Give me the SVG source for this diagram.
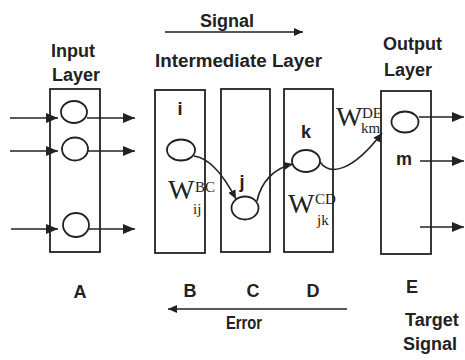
<svg xmlns="http://www.w3.org/2000/svg" width="465" height="360" viewBox="0 0 465 360">
<defs>
<marker id="ah" markerUnits="userSpaceOnUse" markerWidth="13" markerHeight="10" refX="12" refY="5" orient="auto">
<path d="M0,0 L12,5 L0,10 Z" fill="#222"/>
</marker>
<marker id="as" markerUnits="userSpaceOnUse" markerWidth="10" markerHeight="8" refX="9" refY="4" orient="auto">
<path d="M0,0 L9,4 L0,8 Z" fill="#222"/>
</marker>
</defs>
<style>
.box{fill:none;stroke:#222;stroke-width:1.8}
.cir{fill:#fff;stroke:#222;stroke-width:1.8}
.ln{fill:none;stroke:#222;stroke-width:1.6}
.t{font-family:"Liberation Sans",Arial,sans-serif;font-weight:bold;font-size:18px;fill:#222}
.w{font-family:"Liberation Serif","Times New Roman",serif;fill:#222}
.wb{font-size:28px}
.ws{font-size:15px}
</style>
<rect width="465" height="360" fill="#fff"/>

<g id="titles">
<text class="t" x="227" y="27" text-anchor="middle">Signal</text>
<text class="t" x="238.5" y="67" text-anchor="middle" textLength="167" lengthAdjust="spacingAndGlyphs">Intermediate Layer</text>
<text class="t" x="73" y="57" text-anchor="middle">Input</text>
<text class="t" x="76" y="81" text-anchor="middle">Layer</text>
<text class="t" x="383" y="50">Output</text>
<text class="t" x="384" y="76">Layer</text>
<text class="t" x="244" y="329" text-anchor="middle" font-size="16" textLength="36" lengthAdjust="spacingAndGlyphs">Error</text>
<text class="t" x="405" y="326">Target</text>
<text class="t" x="403" y="350">Signal</text>
</g>

<g id="layerA">
<rect class="box" x="50" y="89" width="50" height="163"/>
<ellipse class="cir" cx="74" cy="112" rx="13" ry="11"/>
<ellipse class="cir" cx="75" cy="149" rx="13" ry="11.5"/>
<ellipse class="cir" cx="76" cy="225" rx="13" ry="12"/>
<text class="t" x="80" y="298" text-anchor="middle">A</text>
</g>

<g id="layerB">
<rect class="box" x="155" y="90" width="50" height="163"/>
<ellipse class="cir" cx="181" cy="150" rx="14" ry="10.5"/>
<text class="t" x="180" y="115" text-anchor="middle">i</text>
<text class="w wb" x="168" y="199">W</text>
<text class="w ws" x="195" y="192">BC</text>
<text class="w ws" x="193" y="214">ij</text>
<text class="t" x="190" y="297" text-anchor="middle">B</text>
</g>

<g id="layerC">
<rect class="box" x="221" y="89" width="49" height="163"/>
<ellipse class="cir" cx="245" cy="208" rx="13.5" ry="11.5"/>
<text class="t" x="242" y="188" text-anchor="middle">j</text>
<text class="t" x="253" y="297" text-anchor="middle">C</text>
</g>

<g id="layerD">
<rect class="box" x="284" y="89" width="49" height="163"/>
<ellipse class="cir" cx="306" cy="161" rx="14" ry="11"/>
<text class="t" x="306" y="138" text-anchor="middle">k</text>
<text class="w wb" x="288" y="213">W</text>
<text class="w ws" x="315" y="204">CD</text>
<text class="w ws" x="317" y="225">jk</text>
<text class="t" x="313" y="297" text-anchor="middle">D</text>
</g>

<g id="layerE">
<rect class="box" x="381" y="91" width="50" height="163"/>
<ellipse class="cir" cx="405" cy="122" rx="13.5" ry="10.5"/>
<text class="t" x="404" y="165" text-anchor="middle" font-size="20">m</text>
<text class="w wb" x="336" y="126">W</text>
<text class="w ws" x="362" y="118">DE</text>
<text class="w ws" x="361" y="133">km</text>
<text class="t" x="412" y="293" text-anchor="middle" font-weight="normal">E</text>
</g>

<g id="connectors">
<line class="ln" x1="165" y1="32" x2="303" y2="32" marker-end="url(#as)"/>
<line class="ln" x1="347" y1="309" x2="168" y2="309" marker-end="url(#as)"/>

<line class="ln" x1="10" y1="118" x2="58" y2="118" marker-end="url(#ah)"/>
<line class="ln" x1="10" y1="151" x2="58" y2="151" marker-end="url(#ah)"/>
<line class="ln" x1="11" y1="229" x2="58" y2="229" marker-end="url(#ah)"/>
<line class="ln" x1="87" y1="118" x2="135" y2="118" marker-end="url(#ah)"/>
<line class="ln" x1="88" y1="151" x2="135" y2="151" marker-end="url(#ah)"/>
<line class="ln" x1="89" y1="229" x2="135" y2="229" marker-end="url(#ah)"/>

<path class="ln" d="M194,156 C210,158 225,178 236,199" marker-end="url(#as)"/>
<path class="ln" d="M257,201 C261,182 274,168 293,164" marker-end="url(#as)"/>
<path class="ln" d="M320,162 C330,176 352,172 382,133" marker-end="url(#as)"/>

<line class="ln" x1="419" y1="117" x2="464" y2="117" marker-end="url(#ah)"/>
<line class="ln" x1="420" y1="161" x2="464" y2="161" marker-end="url(#ah)"/>
<line class="ln" x1="420" y1="227" x2="464" y2="227" marker-end="url(#ah)"/>
</g>
</svg>
